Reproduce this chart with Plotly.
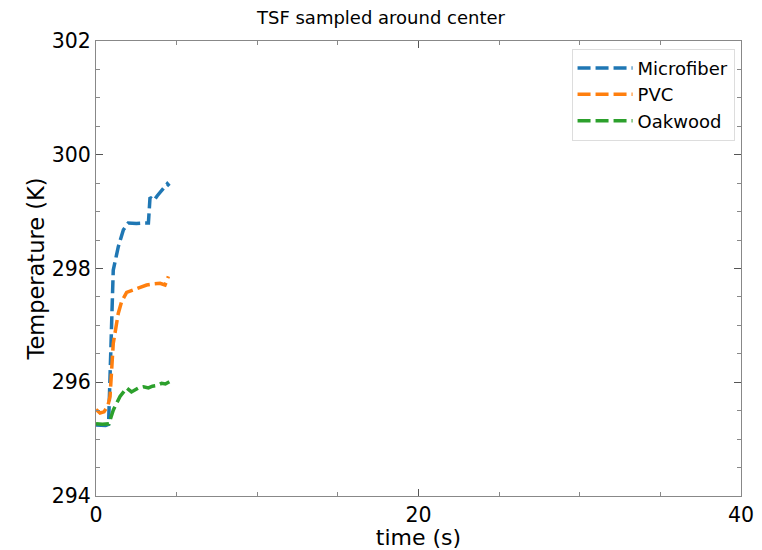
import plotly.graph_objects as go

t_micro = [0.0, 0.3, 0.6, 0.78, 0.9, 1.07, 1.38, 1.7, 2.0, 2.5, 3.0, 3.25, 3.35, 3.6, 3.8, 4.1, 4.42, 4.55]
T_micro = [295.25, 295.24, 295.24, 295.26, 296.6, 297.97, 298.38, 298.68, 298.8, 298.79, 298.8, 298.8, 299.25, 299.2, 299.28, 299.38, 299.49, 299.45]

t_pvc = [0.0, 0.25, 0.5, 0.75, 0.87, 1.07, 1.38, 1.59, 1.9, 2.3, 2.7, 3.14, 3.6, 3.97, 4.28, 4.49]
T_pvc = [295.52, 295.46, 295.48, 295.6, 295.75, 296.68, 297.21, 297.42, 297.58, 297.62, 297.65, 297.71, 297.73, 297.74, 297.71, 297.86]

t_oak = [0.0, 0.4, 0.8, 1.07, 1.49, 1.9, 2.2, 2.63, 2.94, 3.25, 3.5, 3.76, 4.07, 4.3, 4.55]
T_oak = [295.27, 295.26, 295.27, 295.51, 295.75, 295.9, 295.83, 295.9, 295.92, 295.9, 295.93, 295.94, 295.98, 295.97, 296.01]

names = ["Microfiber", "PVC", "Oakwood"]
colors = ["#1f77b4", "#ff7f0e", "#2ca02c"]
series = [(t_micro, T_micro), (t_pvc, T_pvc), (t_oak, T_oak)]

fig = go.Figure()
for (x, y), n, c in zip(series, names, colors):
    fig.add_trace(go.Scatter(x=x, y=y, name=n, mode="lines",
                             line=dict(color=c, width=3.5, dash="13px,5px")))

font = "DejaVu Sans, sans-serif"
axis_common = dict(showline=True, linecolor="#888888", linewidth=1, mirror="ticks",
                   ticks="inside", ticklen=7, tickcolor="#555555", tickwidth=1,
                   showgrid=False, zeroline=False, automargin=False,
                   tickfont=dict(family=font, size=20.5, color="black"))

fig.update_layout(
    width=762, height=550,
    margin=dict(l=96, r=21, t=41, b=54),
    plot_bgcolor="white", paper_bgcolor="white",
    title=dict(text="TSF sampled around center", x=0.5, xanchor="center",
               y=0.967, yanchor="middle", font=dict(family=font, size=18, color="black")),
    xaxis=dict(range=[0, 40], tickvals=[0, 20, 40],
               minor=dict(ticks="inside", dtick=5, ticklen=4, tickcolor="#888888"),
               title=dict(text="time (s)", font=dict(family=font, size=22, color="black"), standoff=5),
               **axis_common),
    yaxis=dict(range=[294, 302], tickvals=[294, 296, 298, 300, 302],
               minor=dict(ticks="inside", dtick=0.5, ticklen=4, tickcolor="#888888"),
               title=dict(text="Temperature (K)", font=dict(family=font, size=22.5, color="black"), standoff=0),
               **axis_common),
    legend=dict(x=0.99, y=0.983, xanchor="right", yanchor="top",
                bgcolor="white", bordercolor="#dddddd", borderwidth=1,
                font=dict(family=font, size=18, color="black"),
                itemwidth=55),
    showlegend=True,
)

fig.write_html("out.html")
